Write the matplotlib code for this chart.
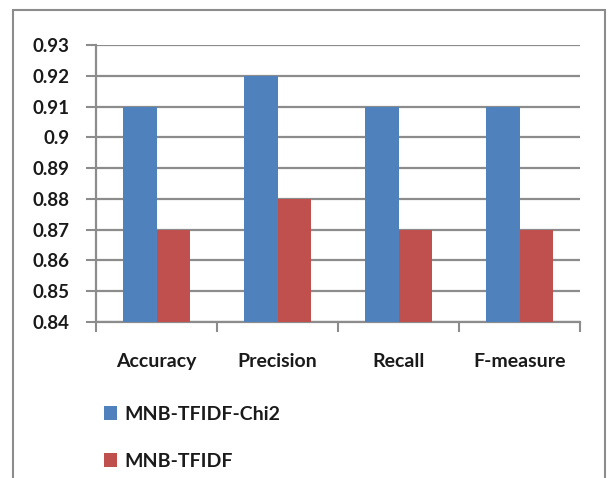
import matplotlib
matplotlib.use("Agg")
import matplotlib.pyplot as plt
import numpy as np
from matplotlib.patches import Rectangle

# scores per metric
metrics = ["Accuracy", "Precision", "Recall", "F-measure"]
chi2_scores = [0.91, 0.92, 0.91, 0.91]
tfidf_scores = [0.87, 0.88, 0.87, 0.87]
series_names = ["MNB-TFIDF-Chi2", "MNB-TFIDF"]
yticks = [0.84, 0.85, 0.86, 0.87, 0.88, 0.89, 0.9, 0.91, 0.92, 0.93]
ytick_labels = ["0.84", "0.85", "0.86", "0.87", "0.88", "0.89", "0.9", "0.91", "0.92", "0.93"]

BLUE = "#4F81BD"
RED = "#C0504D"
GRID = "#8C8C8C"
TXT = "#1a1a1a"

plt.rcParams['font.family'] = ['Lato', 'DejaVu Sans']
plt.rcParams['font.weight'] = 'bold'

fig = plt.figure(figsize=(6.08, 4.78), dpi=100)
ax = fig.add_axes([96/608, 1-322/478, (580-96)/608, (322-45)/478])

x = np.arange(len(metrics))
w = 0.28
b1 = ax.bar(x - w/2, chi2_scores, w, color=BLUE, label=series_names[0], zorder=3)
b2 = ax.bar(x + w/2, tfidf_scores, w, color=RED, label=series_names[1], zorder=3)

ax.set_ylim(0.84, 0.93)
ax.set_xlim(-0.5, len(metrics) - 0.5)
ax.set_yticks(yticks)
ax.set_yticklabels(ytick_labels, fontsize=13.5, color=TXT)
ax.yaxis.grid(True, color=GRID, linewidth=1.6, zorder=0)

# category labels centred, ticks on the boundaries
ax.set_xticks(x)
ax.set_xticklabels(metrics, fontsize=14, color=TXT)
ax.tick_params(axis='x', length=0, pad=22)
ax.set_xticks(np.arange(len(metrics) + 1) - 0.5, minor=True)
ax.tick_params(axis='x', which='minor', length=7, width=1.5, color=GRID)
ax.tick_params(axis='y', length=7, width=1.5, color=GRID, pad=12)

for s in ["top", "right"]:
    ax.spines[s].set_visible(False)
ax.spines["left"].set_color(GRID)
ax.spines["left"].set_linewidth(1.6)
ax.spines["bottom"].set_color(GRID)
ax.spines["bottom"].set_linewidth(1.6)

leg = fig.legend(handles=[b1, b2], labels=series_names, loc="upper left",
                 bbox_to_anchor=(96/608, 1-398/478), frameon=False, fontsize=14,
                 handlelength=0.7, handleheight=0.7, handletextpad=0.35,
                 labelspacing=1.55, borderaxespad=0)
for t in leg.get_texts():
    t.set_color(TXT)

# outer chart border
fig.patches.append(Rectangle((13/608, -0.05), (605-13)/608, 1.05-10/478,
                             transform=fig.transFigure, fill=False,
                             edgecolor="#8C8C8C", linewidth=1.5))

fig.savefig("out.png", dpi=100)
